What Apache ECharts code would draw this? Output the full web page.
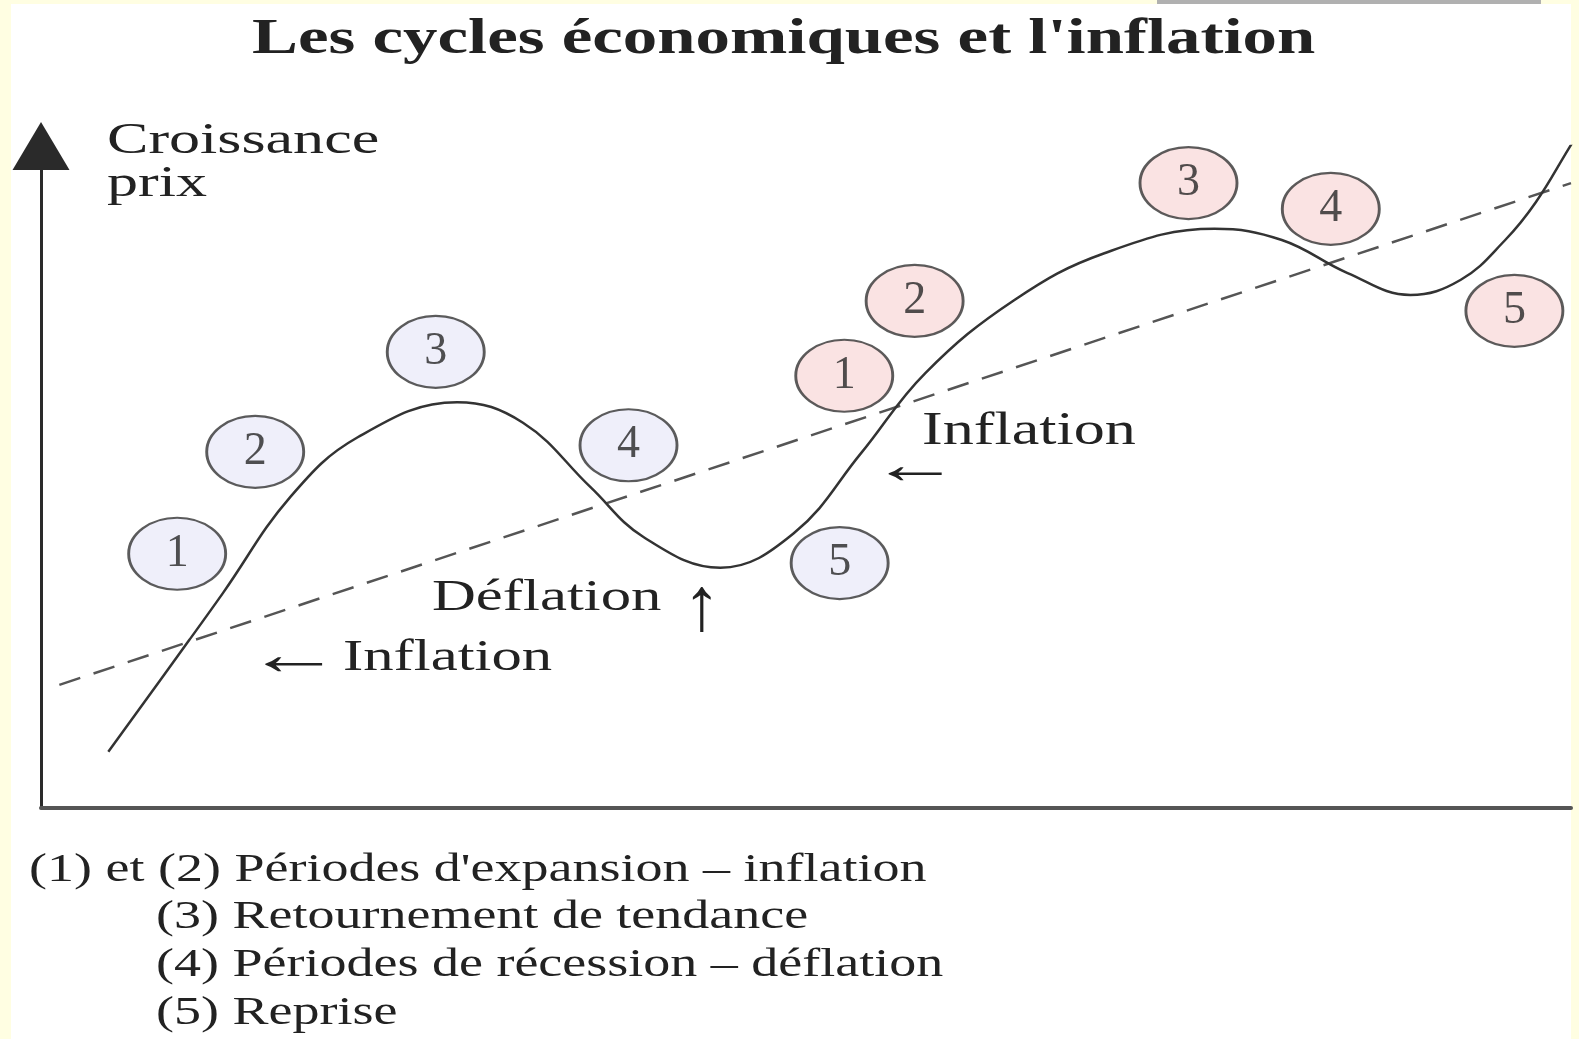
<!DOCTYPE html>
<html>
<head>
<meta charset="utf-8">
<title>Les cycles économiques et l'inflation</title>
<script src="https://cdn.jsdelivr.net/npm/echarts/dist/echarts.min.js"></script>
<style>
html, body { margin: 0; padding: 0; background: #fffee2; }
#chart { width: 1579px; height: 1039px; }
</style>
</head>
<body>
<div id="chart"></div>
<script>
// courbe de croissance des prix (unités arbitraires 0-100 sur les deux axes)
var curveX = [4.4, 9.7, 11.9, 16.3, 20.7, 27.2, 31.5, 35.9, 39.4, 44.4, 49.2, 53.6, 57.8, 63.6, 69.5, 76.7, 81.1, 85.4, 89.5, 92.8, 95.7, 97.7, 99.9, 101.4];
var curveY = [8.5, 25.4, 32.5, 47.0, 56.0, 61.3, 58.2, 48.5, 40.9, 36.3, 41.5, 53.6, 65.7, 76.7, 83.8, 87.5, 85.8, 80.8, 77.5, 79.8, 85.8, 91.5, 99.8, 105.4];
// tendance de l'inflation (pointillés)
var trendX = [1.2, 100];
var trendY = [18.6, 94.4];
// pastilles des phases : premier cycle (bleu), second cycle (rose)
var cycle1X = [8.9, 14.0, 25.8, 38.4, 52.2];
var cycle1Y = [38.4, 53.8, 68.9, 54.8, 37.0];
var cycle2X = [52.5, 57.1, 75.0, 84.3, 96.3];
var cycle2Y = [65.3, 76.6, 94.4, 90.5, 75.1];
var phases = ['1', '2', '3', '4', '5'];
// textes
var titleText = "Les cycles économiques et l'inflation";
var axisText = ['Croissance', 'prix'];
var legendLines = [
	"(1) et (2) Périodes d'expansion – inflation",
	"(3) Retournement de tendance",
	"(4) Périodes de récession – déflation",
	"(5) Reprise"
];

function pairs(xs, ys) {
	return xs.map(function(x, i) { return [x, ys[i]]; });
}

var FONT = '"Liberation Serif", "Times New Roman", serif';
var INK = '#222';

// texte étiré horizontalement comme sur le scan
function txt(str, x, y, size, sx, bold) {
	return {
		type: 'text', x: x, y: y, scaleX: sx, z: 5,
		style: {
			text: str,
			font: (bold ? 'bold ' : '') + size + 'px ' + FONT,
			fill: INK,
			textAlign: 'left', textVerticalAlign: 'middle',
			align: 'left', verticalAlign: 'middle'
		}
	};
}

function phaseSeries(xs, ys, fill) {
	return {
		type: 'scatter',
		data: pairs(xs, ys),
		symbol: 'circle',
		symbolSize: [97, 72],
		z: 4,
		itemStyle: { color: fill, borderColor: '#333', borderWidth: 2.5 },
		label: {
			show: true,
			position: 'inside',
			formatter: function(p) { return phases[p.dataIndex]; },
			fontFamily: FONT,
			fontSize: 46,
			color: '#262626'
		}
	};
}

var myChart = echarts.init(document.getElementById('chart'));
var option = {
	animation: false,
	backgroundColor: '#fffee2',
	grid: { left: 41, right: 8, top: 146, bottom: 231 },
	xAxis: {
		type: 'value', min: 0, max: 100,
		axisLine: { show: true, onZero: false, lineStyle: { color: '#555', width: 4 } },
		axisTick: { show: false },
		axisLabel: { show: false },
		splitLine: { show: false }
	},
	yAxis: {
		type: 'value', min: 0, max: 100,
		axisLine: {
			show: true, onZero: false,
			symbol: ['none', 'triangle'],
			symbolSize: [57, 48],
			lineStyle: { color: '#2a2a2a', width: 3 }
		},
		axisTick: { show: false },
		axisLabel: { show: false },
		splitLine: { show: false }
	},
	graphic: [
		{ type: 'rect', shape: { x: 11, y: 4, width: 1560, height: 1035 }, style: { fill: '#ffffff' }, z: -10 },
		{ type: 'rect', shape: { x: 1157, y: 0, width: 384, height: 4 }, style: { fill: '#b0b0b0' }, z: -10 },
		txt(titleText, 252, 40, 51, 1.35, true),
		txt(axisText[0], 107, 141, 44, 1.41, false),
		txt(axisText[1], 107, 184, 44, 1.41, false),
		txt('←', 246, 658, 60, 1.6, false),
		txt('Inflation', 343, 658, 45, 1.35, false),
		txt('Déflation', 432, 598, 45, 1.35, false),
		txt('↑', 683, 610, 76, 1.0, false),
		txt('Inflation', 922, 432, 46, 1.35, false),
		txt('←', 870, 468, 56, 1.6, false),
		txt(legendLines[0], 29, 870, 40, 1.35, false),
		txt(legendLines[1], 156, 917, 40, 1.35, false),
		txt(legendLines[2], 156, 965, 40, 1.35, false),
		txt(legendLines[3], 156, 1013, 40, 1.35, false)
	],
	series: [
		{
			type: 'line',
			data: pairs(trendX, trendY),
			symbol: 'none',
			z: 2,
			lineStyle: { color: '#555', width: 2.5, type: [22, 14] }
		},
		{
			type: 'line',
			data: pairs(curveX, curveY),
			symbol: 'none',
			smooth: 0.4,
			clip: true,
			z: 3,
			lineStyle: { color: '#333', width: 2.5 }
		},
		phaseSeries(cycle1X, cycle1Y, '#ebebf9'),
		phaseSeries(cycle2X, cycle2Y, '#f9dcdc')
	]
};
myChart.setOption(option);
window.onresize = function() {
	myChart.resize();
};
</script>
</body>
</html>
